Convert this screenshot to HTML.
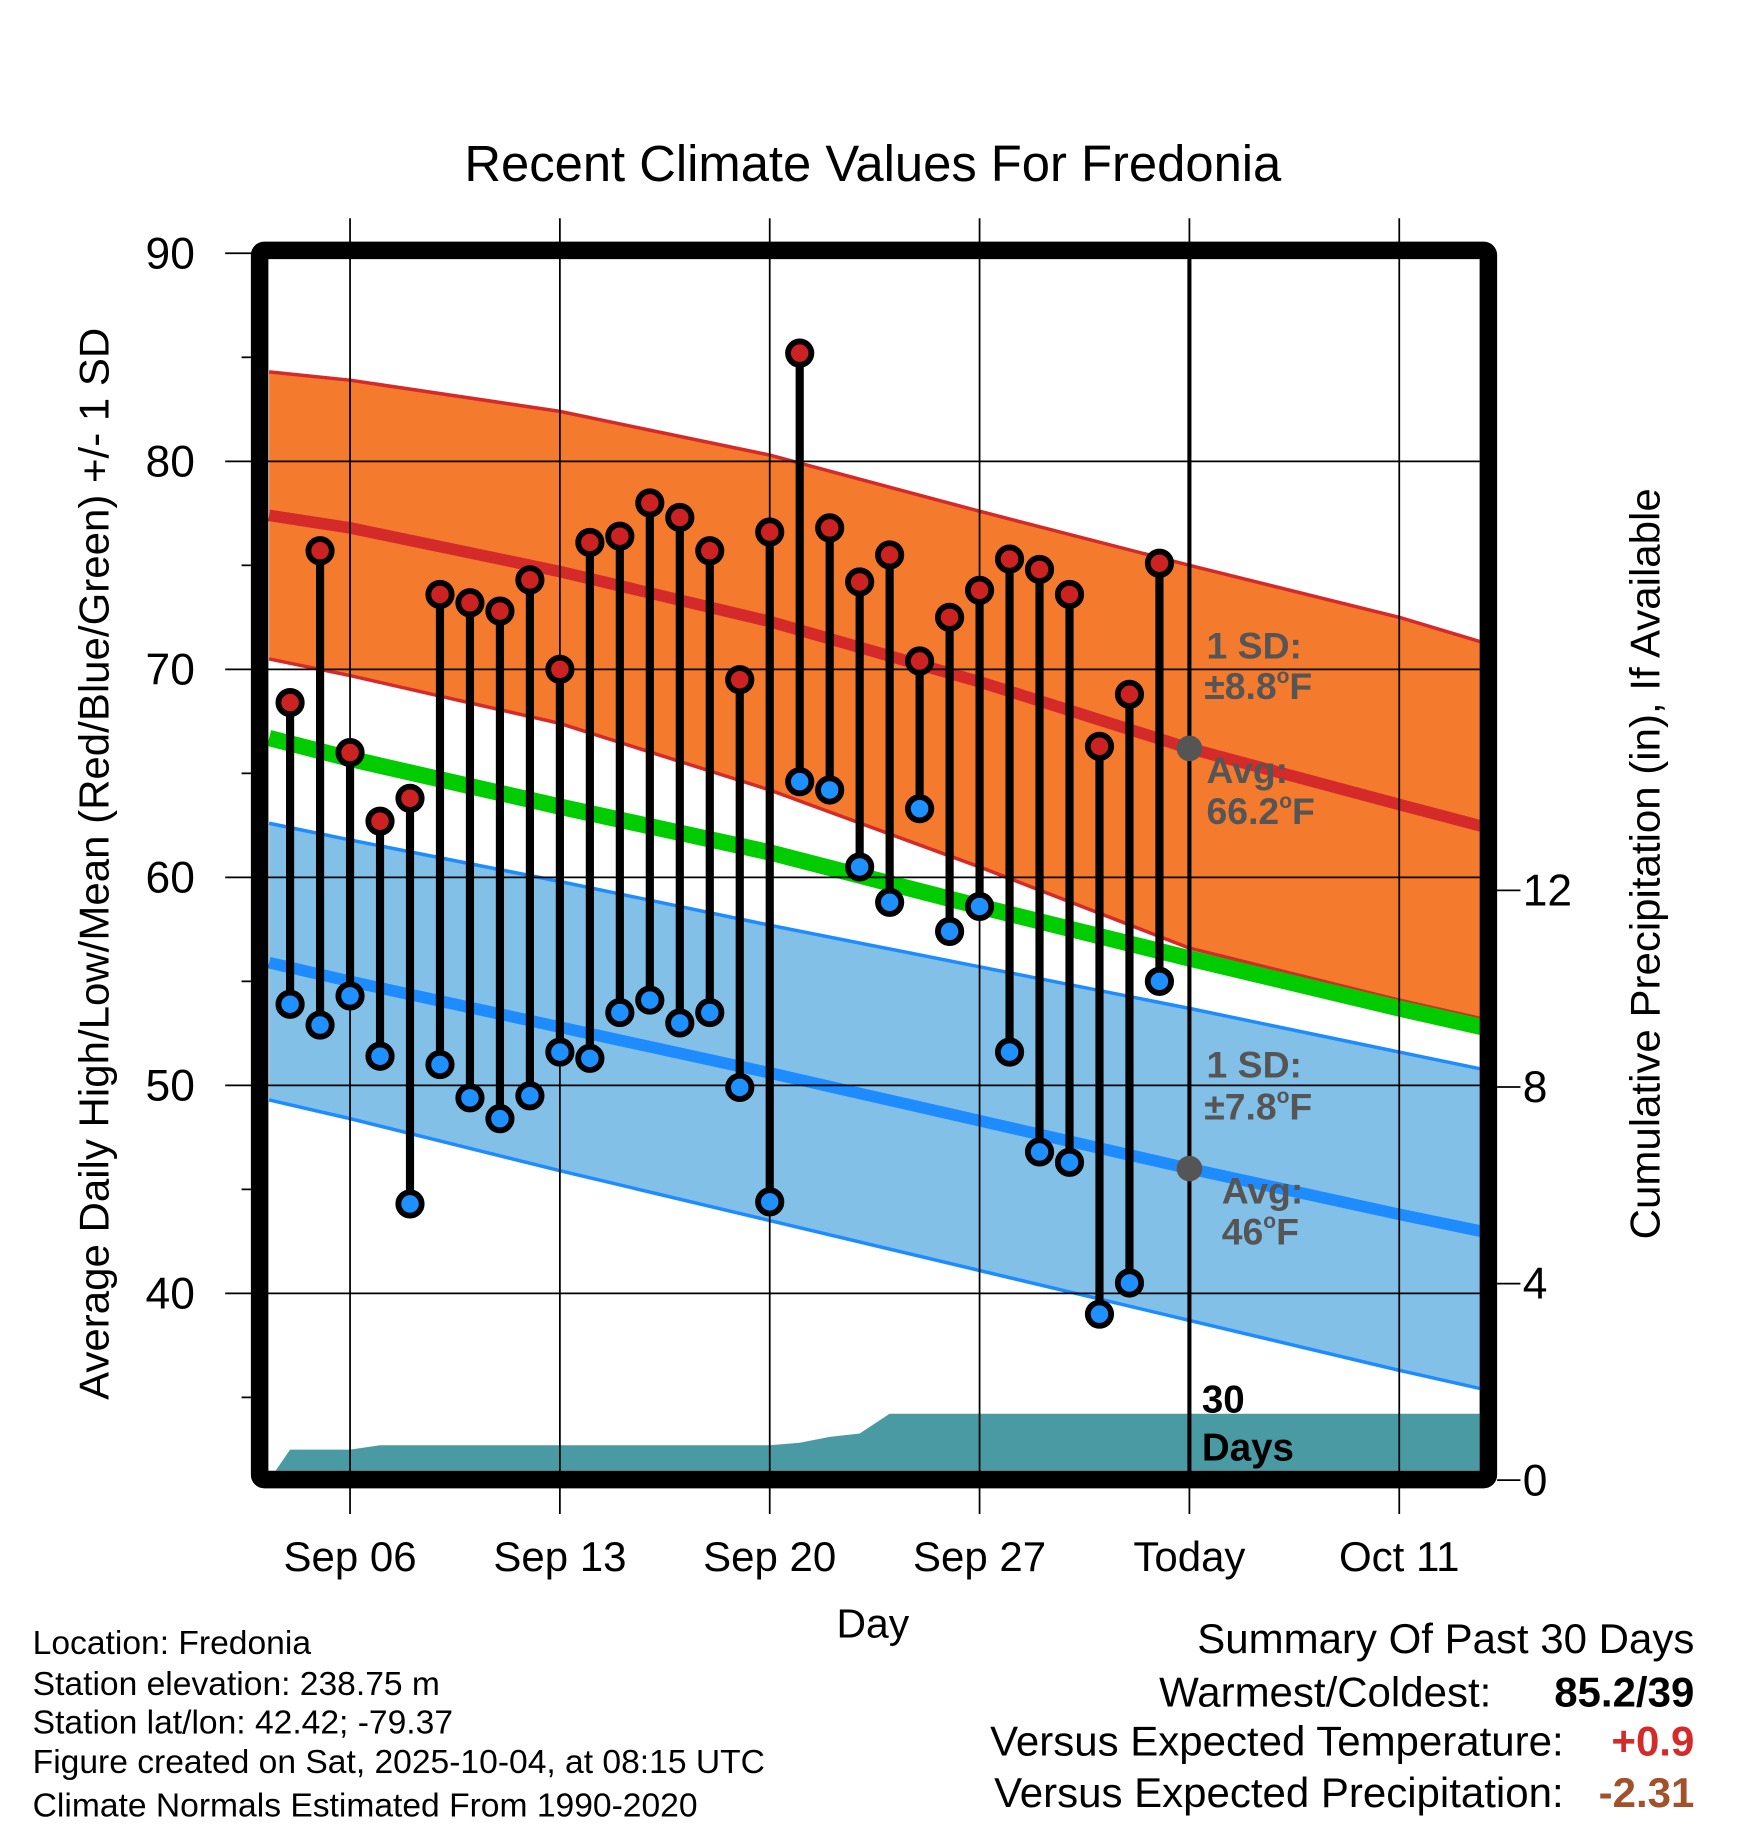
<!DOCTYPE html>
<html><head><meta charset="utf-8"><style>
html,body{margin:0;padding:0;background:#fff}
svg{display:block;font-family:"Liberation Sans",Arial,sans-serif}
</style></head><body>
<svg id="chart" width="1748" height="1828" viewBox="0 0 1498 1566" preserveAspectRatio="none" xmlns="http://www.w3.org/2000/svg">
<text x="748" y="155" font-size="43.5" text-anchor="middle">Recent Climate Values For Fredonia</text>
<defs><clipPath id="plotclip"><rect x="230" y="222" width="1038" height="1038"/></clipPath></defs>
<g id="bands" clip-path="url(#plotclip)"></g>
<g id="grid"></g>
<g id="marks" clip-path="url(#plotclip)"></g>
<g id="overlay"></g>
<rect x="222.5" y="214.5" width="1053" height="1053" fill="none" stroke="#000" stroke-width="15" rx="4"/>
<text transform="translate(93,740) rotate(-90)" font-size="36" text-anchor="middle">Average Daily High/Low/Mean (Red/Blue/Green) +/- 1 SD</text>
<text transform="translate(1422,740) rotate(-90)" font-size="36" text-anchor="middle">Cumulative Precipitation (in), If Available</text>
<text x="748" y="1403" font-size="35" text-anchor="middle">Day</text>
<g font-size="28.8">
<text x="28" y="1417">Location: Fredonia</text>
<text x="28" y="1452">Station elevation: 238.75 m</text>
<text x="28" y="1485">Station lat/lon: 42.42; -79.37</text>
<text x="28" y="1519">Figure created on Sat, 2025-10-04, at 08:15 UTC</text>
<text x="28" y="1556">Climate Normals Estimated From 1990-2020</text>
</g>
<g font-size="36" text-anchor="end">
<text x="1452" y="1416">Summary Of Past 30 Days</text>
<text x="1278" y="1462">Warmest/Coldest:</text>
<text x="1452" y="1462" font-weight="bold">85.2/39</text>
<text x="1340" y="1504">Versus Expected Temperature:</text>
<text x="1452" y="1504" font-weight="bold" fill="#d42a2a">+0.9</text>
<text x="1340" y="1548">Versus Expected Precipitation:</text>
<text x="1452" y="1548" font-weight="bold" fill="#a0522d">-2.31</text>
</g>
</svg>
<script>
// ---- data ----
const dayLabels = ["Sep 04","Sep 05","Sep 06","Sep 07","Sep 08","Sep 09","Sep 10","Sep 11","Sep 12","Sep 13","Sep 14","Sep 15","Sep 16","Sep 17","Sep 18","Sep 19","Sep 20","Sep 21","Sep 22","Sep 23","Sep 24","Sep 25","Sep 26","Sep 27","Sep 28","Sep 29","Sep 30","Oct 01","Oct 02","Oct 03"];
const highs = [68.4,75.7,66.0,62.7,63.8,73.6,73.2,72.8,74.3,70.0,76.1,76.4,78.0,77.3,75.7,69.5,76.6,85.2,76.8,74.2,75.5,70.4,72.5,73.8,75.3,74.8,73.6,66.3,68.8,75.1];
const lows = [53.9,52.9,54.3,51.4,44.3,51.0,49.4,48.4,49.5,51.6,51.3,53.5,54.1,53.0,53.5,49.9,44.4,64.6,64.2,60.5,58.8,63.3,57.4,58.6,51.6,46.8,46.3,39.0,40.5,55.0];
const precip = [0.62,0.62,0.62,0.71,0.71,0.71,0.71,0.71,0.71,0.71,0.71,0.71,0.71,0.71,0.71,0.71,0.71,0.76,0.88,0.95,1.35,1.35,1.35,1.35,1.35,1.35,1.35,1.35,1.35,1.35];
// normals sampled at day offsets from Sep 04 (index 0)
const normDays = [-0.7,2,9,16,23,30,37,40.7];
const normHighUpper = [84.3,83.9,82.4,80.3,77.6,75.0,72.5,70.9];
const normHigh = [77.4,76.8,74.7,72.3,69.4,66.2,63.5,62.1];
const normHighLower = [70.5,69.7,67.4,64.2,60.5,56.6,54.1,52.9];
const normMean = [66.7,65.7,63.4,61.2,58.6,56.1,53.7,52.5];
const normLowUpper = [62.6,61.8,59.8,57.7,55.7,53.7,51.6,50.5];
const normLow = [55.9,55.0,52.8,50.6,48.3,46.0,43.8,42.7];
const normLowLower = [49.3,48.4,45.9,43.5,41.1,38.7,36.3,35.1];
const tickTemps = [40,50,60,70,80,90];
const tickPrecip = [0,4,8,12];
const xTickDays = [2,9,16,23,30,37];
const xTickLabels = ["Sep 06","Sep 13","Sep 20","Sep 27","Today","Oct 11"];
const todayIdx = 30;

// ---- axes ----
const X = d => 248.6 + d*25.69;
const Y = t => 217 + (90-t)*17.82;
const YP = p => 1268 - p*42.1;
const NS = "http://www.w3.org/2000/svg";
function mk(parent, tag, attrs){const e=document.createElementNS(NS,tag);for(const k in attrs)e.setAttribute(k,attrs[k]);parent.appendChild(e);return e;}
const bands=document.getElementById('bands'), grid=document.getElementById('grid'), marks=document.getElementById('marks'), overlay=document.getElementById('overlay');
function pts(arr){return normDays.map((d,i)=>X(d)+','+Y(arr[i])).join(' ');}
function band(up,lo,fill,edge,name){
  const p=normDays.map((d,i)=>X(d)+','+Y(up[i])).concat(normDays.slice().reverse().map((d,j)=>{const i=normDays.length-1-j;return X(d)+','+Y(lo[i]);})).join(' ');
  const e=mk(bands,'polygon',{points:p,fill:fill,stroke:'none'});
  
  
  const a=mk(bands,'polyline',{points:pts(up),fill:'none',stroke:edge,'stroke-width':3,'stroke-linejoin':'round'});
  
  
  const b=mk(bands,'polyline',{points:pts(lo),fill:'none',stroke:edge,'stroke-width':3,'stroke-linejoin':'round'});
  
  
}
band(normHighUpper,normHighLower,'#f47a2e','#d42a2a','high-sd-band');
band(normLowUpper,normLowLower,'#82c0e8','#1e8cff','low-sd-band');
let l=mk(bands,'polyline',{points:pts(normHigh),fill:'none',stroke:'#d42a2a','stroke-width':10,'stroke-linejoin':'round'});


l=mk(bands,'polyline',{points:pts(normMean),fill:'none',stroke:'#00cc00','stroke-width':14,'stroke-linejoin':'round'});


l=mk(bands,'polyline',{points:pts(normLow),fill:'none',stroke:'#1e8cff','stroke-width':10,'stroke-linejoin':'round'});


// precip area
let pp=[X(-0.7)+','+YP(0)];
precip.forEach((v,i)=>pp.push(X(i)+','+YP(v)));
pp.push(X(40.7)+','+YP(precip[precip.length-1]));
pp.push(X(40.7)+','+YP(0));
const pa=mk(bands,'polygon',{points:pp.join(' '),fill:'#4a9aa4'});



// grid
tickTemps.forEach(t=>{
  const g=mk(grid,'line',{x1:193,x2:1268,y1:Y(t),y2:Y(t),stroke:'#000','stroke-width':1.5});
  
  
  const tx=mk(grid,'text',{x:167,y:Y(t)+13,'font-size':38,'text-anchor':'end'});tx.textContent=t;
  
  
});
[35,45,55,65,75,85].forEach(t=>{mk(grid,'line',{x1:207,x2:215,y1:Y(t),y2:Y(t),stroke:'#000','stroke-width':1.5});});
tickPrecip.forEach(p=>{
  mk(grid,'line',{x1:1283,x2:1303,y1:YP(p),y2:YP(p),stroke:'#000','stroke-width':1.5});
  const tx=mk(grid,'text',{x:1305,y:YP(p)+13,'font-size':38});tx.textContent=p;
  
  
});
xTickDays.forEach((d,i)=>{
  const g=mk(grid,'line',{x1:X(d),x2:X(d),y1:187,y2:1297,stroke:'#000','stroke-width':1.5});
  
  
  const tx=mk(grid,'text',{x:X(d),y:1346,'font-size':36,'text-anchor':'middle'});tx.textContent=xTickLabels[i];
  
  
});

// stems and dots
highs.forEach((h,i)=>{
  const s=mk(marks,'line',{x1:X(i),x2:X(i),y1:Y(h),y2:Y(lows[i]),stroke:'#000','stroke-width':7});
  
  
});
highs.forEach((h,i)=>{
  const c=mk(marks,'circle',{cx:X(i),cy:Y(h),r:10,fill:'#cc2222',stroke:'#000','stroke-width':5});
  
  
  const c2=mk(marks,'circle',{cx:X(i),cy:Y(lows[i]),r:10,fill:'#1e90ff',stroke:'#000','stroke-width':5});
  
  
});

// today overlay
const tl=mk(overlay,'line',{x1:X(todayIdx),x2:X(todayIdx),y1:217,y2:1262,stroke:'#000','stroke-width':3.5});


const ti=normDays.findIndex(d=>d>=todayIdx);
function at(arr){const i=Math.max(ti-1,0);const f=(todayIdx-normDays[i])/(normDays[i+1]-normDays[i]);return arr[i]+f*(arr[i+1]-arr[i]);}
let dot=mk(overlay,'circle',{cx:X(todayIdx),cy:Y(at(normHigh)),r:11,fill:'#555'});


dot=mk(overlay,'circle',{cx:X(todayIdx),cy:Y(at(normLow)),r:11,fill:'#555'});


const labels=[["1 SD:",1034,564],["±8.8°F",1032,599],["Avg:",1034,671],["66.2°F",1034,706],["1 SD:",1034,923],["±7.8°F",1032,959],["Avg:",1047,1031],["46°F",1047,1066]];
labels.forEach(a=>{
  const t=mk(overlay,'text',{x:a[1],y:a[2],'font-size':32,'font-weight':'bold',fill:'#555'});
  t.textContent=a[0].replace('°F','');
  if(a[0].includes('°F')){const s=mk(t,'tspan',{'font-size':18,dy:-14});s.textContent='o';const f=mk(t,'tspan',{dy:14});f.textContent='F';}
  
  
});
let t=mk(overlay,'text',{x:1030,y:1210,'font-size':33,'font-weight':'bold'});t.textContent='30';


t=mk(overlay,'text',{x:1030,y:1251,'font-size':33,'font-weight':'bold'});t.textContent='Days';


</script>
</body></html>
